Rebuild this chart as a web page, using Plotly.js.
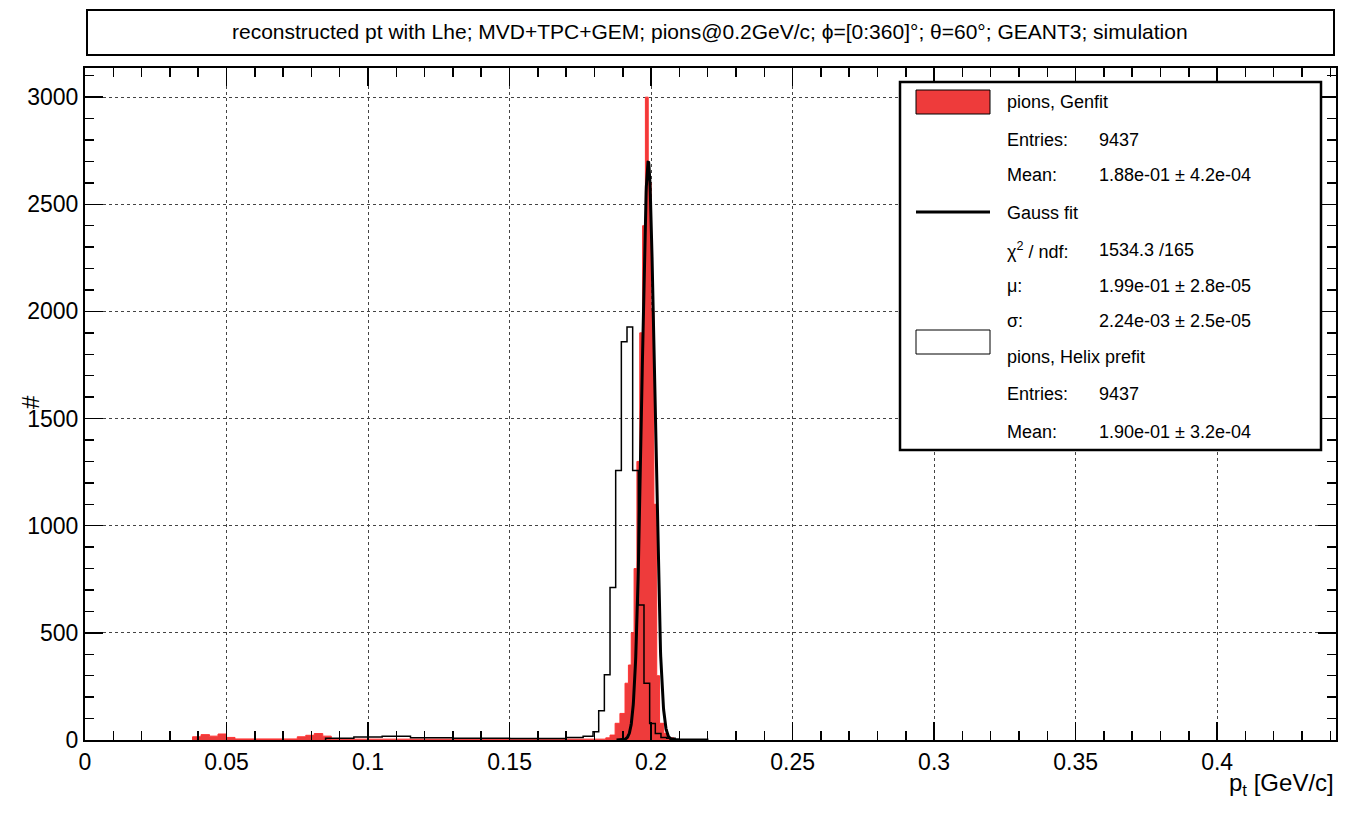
<!DOCTYPE html>
<html>
<head>
<meta charset="utf-8">
<script src="https://cdn.plot.ly/plotly-3.0.1.min.js"></script>
<style>body{margin:0;background:#fff}#plot{width:1349px;height:814px}</style>
</head>
<body>
<div id="plot"></div>
<script>
// Genfit histogram (red): bin edges and counts
const genfitEdges = [0.038,0.041,0.044,0.047,0.050,0.053,0.075,0.078,0.081,0.084,0.087,0.184,0.1855,0.1873,0.189,0.1908,0.192,0.193,0.194,0.195,0.196,0.197,0.198,0.199,0.200,0.201,0.202,0.203,0.2045,0.206,0.208];
const genfitCounts = [15,25,18,28,12,5,15,22,30,18,4,10,23,78,124,265,350,500,800,1300,1900,2400,3000,2600,2000,1100,300,78,31,10];

// Helix prefit histogram (black outline)
const prefitEdges = [0.085,0.095,0.105,0.115,0.13,0.15,0.17,0.176,0.1795,0.1815,0.1835,0.1855,0.1875,0.1895,0.1915,0.1935,0.1955,0.1975,0.1995,0.2015,0.2035,0.2055,0.2085,0.22];
const prefitCounts = [8,14,18,10,8,7,12,18,38,137,305,712,1258,1859,1927,1258,630,265,77,30,12,8,4];

// Gauss fit parameters (from stats box)
const fitAmp = 2700, fitMu = 0.199, fitSigma = 0.00224;

const stepXY = (edges, counts) => {
    const x = [edges[0], ...edges];
    const y = [0, ...counts, 0];
    return {x, y};
};

const red = stepXY(genfitEdges, genfitCounts);
const blk = stepXY(prefitEdges, prefitCounts);

const fitX = [], fitY = [];
for (let i = 0; i <= 300; i++) {
    const x = fitMu - 5 * fitSigma + i * 10 * fitSigma / 300;
    fitX.push(x);
    fitY.push(fitAmp * Math.exp(-0.5 * ((x - fitMu) / fitSigma) ** 2));
}

const traces = [
    {x: red.x, y: red.y, type: 'scatter', mode: 'lines', line: {shape: 'hv', color: '#ff3333', width: 1},
     fill: 'tozeroy', fillcolor: '#ee3b3b', hoverinfo: 'skip'},
    {x: blk.x, y: blk.y, type: 'scatter', mode: 'lines', line: {shape: 'hv', color: '#000', width: 1.5}, hoverinfo: 'skip'},
    {x: fitX, y: fitY, type: 'scatter', mode: 'lines', line: {color: '#000', width: 3}, hoverinfo: 'skip'}
];

const font = {family: 'Liberation Sans, Arial, sans-serif', color: '#000'};
const axisCommon = {
    showline: true, linewidth: 2, linecolor: '#000', mirror: 'ticks',
    ticks: 'inside', ticklen: 18, tickwidth: 1.5, tickcolor: '#000',
    showgrid: true, gridcolor: '#444', griddash: 'dot', gridwidth: 1,
    zeroline: false, tickfont: {size: 23, family: font.family, color: '#000'}
};

// stats box rows: [label, value, y in px]
const statRows = [
    ['pions, Genfit', '', 102],
    ['Entries:', '9437', 140],
    ['Mean:', '1.88e-01 ± 4.2e-04', 175],
    ['Gauss fit', '', 213],
    ['χ<sup>2</sup> / ndf:', '1534.3 /165', 250],
    ['μ:', '1.99e-01 ± 2.8e-05', 286],
    ['σ:', '2.24e-03 ± 2.5e-05', 321],
    ['pions, Helix prefit', '', 357],
    ['Entries:', '9437', 394],
    ['Mean:', '1.90e-01 ± 3.2e-04', 432]
];
const W = 1349, H = 814;
const L = 85, R = 1336, T = 68, B = 740;
// pixel -> paper (plot area) coordinates
const px = v => (v - L) / (R - L), py = v => (B - v) / (B - T);

const annotations = [];
statRows.forEach(([lab, val, y]) => {
    annotations.push({xref: 'paper', yref: 'paper', x: px(1005), y: py(y), xanchor: 'left', yanchor: 'middle',
        text: lab, showarrow: false, font: {...font, size: 18}});
    if (val) annotations.push({xref: 'paper', yref: 'paper', x: px(1097), y: py(y), xanchor: 'left', yanchor: 'middle',
        text: val, showarrow: false, font: {...font, size: 18}});
});
annotations.push(
    {xref: 'paper', yref: 'paper', x: px(710), y: py(32), xanchor: 'center', yanchor: 'middle', showarrow: false,
     text: 'reconstructed pt with Lhe; MVD+TPC+GEM; pions@0.2GeV/c; ϕ=[0:360]°; θ=60°; GEANT3; simulation',
     font: {...font, size: 21}},
    {xref: 'paper', yref: 'paper', x: px(1336), y: py(802), xanchor: 'right', yanchor: 'bottom', showarrow: false,
     text: 'p<sub>t</sub> [GeV/c]', font: {...font, size: 24}},
    {xref: 'paper', yref: 'paper', x: px(30), y: py(402), xanchor: 'center', yanchor: 'middle', showarrow: false,
     text: '#', textangle: -90, font: {...font, size: 24}}
);

const shapes = [
    {type: 'rect', xref: 'paper', yref: 'paper', x0: px(87), x1: px(1334), y0: py(10), y1: py(55), line: {color: '#000', width: 2}},
    {type: 'rect', xref: 'paper', yref: 'paper', x0: px(900), x1: px(1321), y0: py(82), y1: py(450),
     line: {color: '#000', width: 2.5}, fillcolor: '#fff', layer: 'above'},
    {type: 'rect', xref: 'paper', yref: 'paper', x0: px(916), x1: px(990), y0: py(90), y1: py(114),
     line: {color: '#000', width: 1}, fillcolor: '#ee3b3b', layer: 'above'},
    {type: 'line', xref: 'paper', yref: 'paper', x0: px(916), x1: px(990), y0: py(212), y1: py(212),
     line: {color: '#000', width: 3}, layer: 'above'},
    {type: 'rect', xref: 'paper', yref: 'paper', x0: px(916), x1: px(990), y0: py(330), y1: py(354),
     line: {color: '#000', width: 1}, fillcolor: '#fff', layer: 'above'}
];

const layout = {
    width: W, height: H, showlegend: false,
    margin: {l: L, r: W - R, t: T, b: H - B},
    paper_bgcolor: '#fff', plot_bgcolor: '#fff', font: font,
    xaxis: {...axisCommon, range: [0, 0.442], tickvals: [0, 0.05, 0.1, 0.15, 0.2, 0.25, 0.3, 0.35, 0.4],
        ticktext: ['0', '0.05', '0.1', '0.15', '0.2', '0.25', '0.3', '0.35', '0.4'],
        minor: {dtick: 0.01, tick0: 0, ticks: 'inside', ticklen: 9, tickcolor: '#000', showgrid: false}},
    yaxis: {...axisCommon, range: [0, 3136], tickvals: [0, 500, 1000, 1500, 2000, 2500, 3000],
        minor: {dtick: 100, tick0: 0, ticks: 'inside', ticklen: 9, tickcolor: '#000', showgrid: false}},
    annotations, shapes
};

Plotly.newPlot('plot', traces, layout, {staticPlot: true});
</script>
</body>
</html>
